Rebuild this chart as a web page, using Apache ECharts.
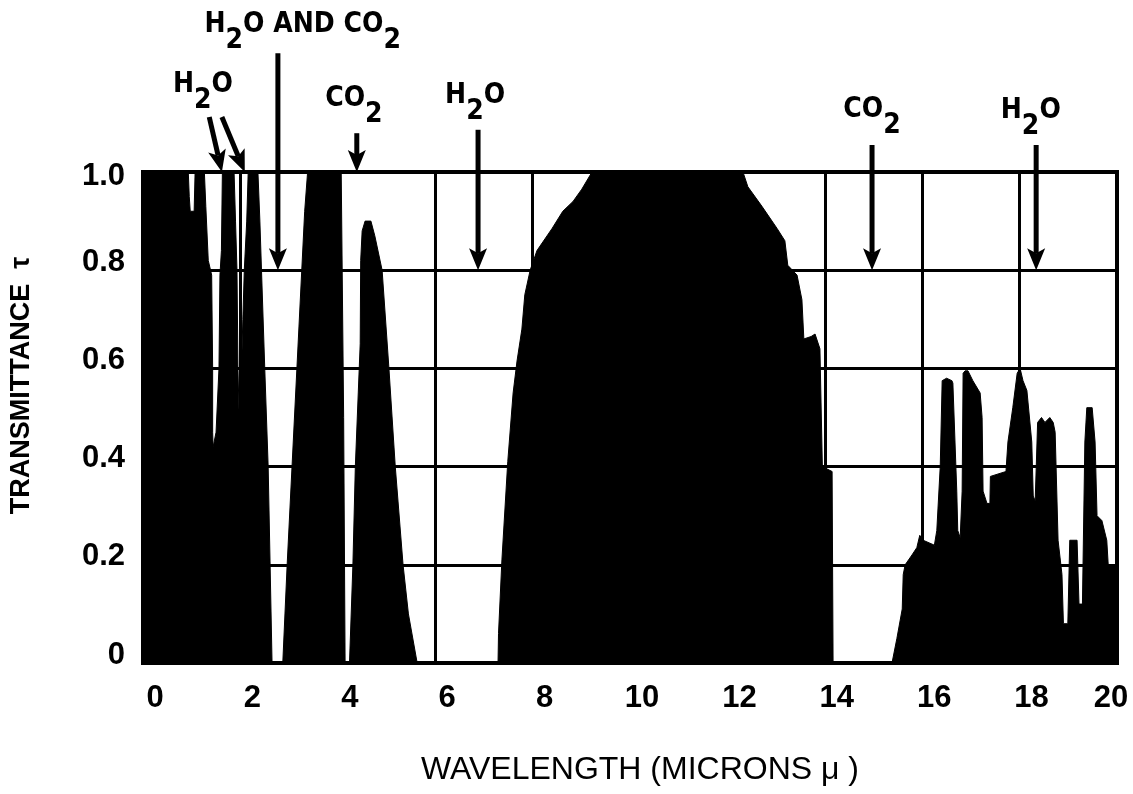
<!DOCTYPE html>
<html><head><meta charset="utf-8">
<script src="https://cdn.jsdelivr.net/npm/echarts@6/dist/echarts.min.js"></script>
<style>html,body{margin:0;padding:0;background:#fff}#c{width:1133px;height:794px}</style>
</head><body><div id="c"></div>
<script>
// wavelength (microns) and transmittance
const wavelength = [
  0.00,0.93,0.95,0.97,1.05,1.07,1.26,1.29,1.34,1.41,1.43,1.43,1.44,1.50,1.56,1.58,1.61,1.63,
  1.87,1.90,1.93,1.95,1.98,2.01,2.05,2.08,2.13,2.16,
  2.36,2.40,2.44,2.50,2.57,2.61,2.65,2.87,2.96,3.06,3.16,3.26,3.32,3.38,
  4.07,4.12,4.15,4.24,4.31,4.36,4.42,4.46,4.47,4.50,4.56,4.68,4.76,4.91,5.05,5.18,5.34,5.45,5.63,
  7.29,7.30,7.37,7.49,7.60,7.68,7.78,7.84,7.95,8.09,8.40,8.62,8.83,9.01,9.22,
  12.32,12.42,12.71,13.02,13.18,13.24,13.43,13.53,13.57,13.72,13.80,13.90,13.95,14.15,14.17,
  15.38,15.48,15.59,15.61,15.65,15.79,15.89,15.95,16.02,16.25,16.30,16.37,16.41,16.50,16.61,16.63,
  16.71,16.73,16.78,16.82,16.84,16.88,16.94,17.04,17.13,17.19,17.23,17.25,17.33,17.39,17.40,17.72,
  17.76,17.86,17.95,18.01,18.07,18.15,18.25,18.28,18.32,18.37,18.45,18.52,18.62,18.69,18.73,18.79,
  18.87,18.90,18.99,19.03,19.18,19.22,19.29,19.34,19.38,19.49,19.55,19.59,19.69,19.79,19.82,20.00
];
const transmittance = [
  1.00,1.00,0.95,0.92,0.92,1.00,1.00,0.93,0.82,0.79,0.60,0.47,0.44,0.47,0.60,0.79,0.84,1.00,
  1.00,0.90,0.80,0.60,0.48,0.55,0.70,0.80,0.90,1.00,
  1.00,0.90,0.78,0.60,0.40,0.20,0.00,0.00,0.20,0.40,0.60,0.80,0.92,1.00,
  1.00,0.50,0.00,0.00,0.20,0.40,0.55,0.65,0.82,0.88,0.90,0.90,0.87,0.80,0.60,0.40,0.20,0.10,0.00,
  0.00,0.06,0.21,0.41,0.55,0.615,0.68,0.75,0.80,0.84,0.885,0.92,0.94,0.965,1.00,
  1.00,0.97,0.93,0.885,0.86,0.81,0.79,0.74,0.66,0.665,0.67,0.64,0.40,0.39,0.00,
  0.00,0.05,0.11,0.18,0.20,0.22,0.235,0.26,0.25,0.24,0.27,0.40,0.575,0.58,0.575,0.57,
  0.35,0.27,0.255,0.35,0.59,0.595,0.595,0.575,0.56,0.55,0.50,0.35,0.325,0.325,0.38,0.39,
  0.45,0.52,0.59,0.60,0.575,0.555,0.45,0.34,0.33,0.49,0.50,0.49,0.50,0.49,0.47,0.25,
  0.18,0.08,0.08,0.25,0.25,0.12,0.12,0.45,0.52,0.52,0.45,0.30,0.29,0.25,0.20,0.20
];
const xTickLabels = ['0','2','4','6','8','10','12','14','16','18','20'];
const yTickLabels = ['0','0.2','0.4','0.6','0.8','1.0'];

// absorption band annotations
const bandNames  = ['H2O AND CO2','H2O','CO2','H2O','CO2','H2O'];
const bandLabelX = [3.28, 1.23, 4.33, 6.82, 14.97, 18.23];
const bandLabelY = [1.297, 1.175, 1.147, 1.153, 1.124, 1.122];
const arrowFromX = [2.77, 1.36, 1.62, 4.39, 6.88, 14.97, 18.34];
const arrowFromY = [1.242, 1.112, 1.112, 1.079, 1.086, 1.055, 1.055];
const arrowToX   = [2.77, 1.62, 2.09, 4.39, 6.88, 14.97, 18.34];
const arrowToY   = [0.80, 1.00, 1.00, 1.00, 0.80, 0.80, 0.80];

const TICKFAM = "'Liberation Sans Narrow','Liberation Sans',Arial,sans-serif";
const ANNFAM = "'DejaVu Sans Condensed','Liberation Sans',sans-serif";
const tickFont = {fontFamily: TICKFAM, fontWeight: 'bold', fontSize: 31, color: '#000'};

const chart = echarts.init(document.getElementById('c'), null, {renderer: 'canvas'});

function renderArrow(params, api) {
  const p1 = api.coord([api.value(0), api.value(1)]);
  const p2 = api.coord([api.value(2), api.value(3)]);
  const dx = p2[0] - p1[0], dy = p2[1] - p1[1];
  const len = Math.hypot(dx, dy);
  const ux = dx / len, uy = dy / len;
  const headLen = 22, headHalf = 9;
  const bx = p2[0] - ux * headLen, by = p2[1] - uy * headLen;
  const nx = -uy, ny = ux;
  return {type: 'group', children: [
    {type: 'line', shape: {x1: p1[0], y1: p1[1], x2: bx + ux * 5, y2: by + uy * 5},
     style: {stroke: '#000', lineWidth: 5}},
    {type: 'polygon', shape: {points: [
      [p2[0], p2[1]],
      [bx + nx * headHalf, by + ny * headHalf],
      [bx + ux * 5, by + uy * 5],
      [bx - nx * headHalf, by - ny * headHalf]]},
     style: {fill: '#000'}}
  ]};
}

function renderLabel(params, api) {
  const p = api.coord([api.value(0), api.value(1)]);
  const name = bandNames[params.dataIndex];
  const rich = name.split(/(\d)/).filter(s => s).map(s => /^\d$/.test(s) ? '{s|' + s + '}' : '{m|' + s + '}').join('');
  const base = {fontFamily: ANNFAM, fontWeight: 'bold', fontSize: 28, lineHeight: 30, fill: '#000', verticalAlign: 'top'};
  return {type: 'text', x: p[0], y: p[1] - 15, style: {
    text: rich, align: 'center', verticalAlign: 'top',
    rich: {m: Object.assign({}, base), s: Object.assign({}, base, {padding: [16, 0, 0, 0]})}
  }};
}

chart.setOption({
  animation: false,
  backgroundColor: '#fff',
  grid: {left: 143, right: 16, top: 172, bottom: 131, show: true, borderColor: '#000', borderWidth: 4, backgroundColor: '#fff'},
  xAxis: {
    type: 'value', min: 0, max: 20, interval: 2,
    axisLine: {show: false}, axisTick: {show: false},
    splitLine: {show: true, lineStyle: {color: '#000', width: 3}},
    axisLabel: {
      margin: 20,
      formatter: v => {
        const i = Math.round(v / 2);
        return i === xTickLabels.length - 1 ? '{b|' + xTickLabels[i] + '}' : '{a|' + xTickLabels[i] + '}';
      },
      rich: {
        a: Object.assign({padding: [0, 0, 0, 24]}, tickFont),
        b: Object.assign({padding: [0, 12, 0, 0]}, tickFont)
      }
    },
    name: 'WAVELENGTH (MICRONS \u03bc )', nameLocation: 'middle', nameGap: 91,
    nameTextStyle: {fontFamily: "'Liberation Sans',Arial,sans-serif", fontSize: 32, color: '#000', padding: [0, 0, 0, 20]}
  },
  yAxis: {
    type: 'value', min: 0, max: 1, interval: 0.2,
    axisLine: {show: false}, axisTick: {show: false},
    splitLine: {show: true, lineStyle: {color: '#000', width: 3}},
    axisLabel: {
      margin: 18,
      formatter: v => {
        const i = Math.round(v / 0.2);
        return i === yTickLabels.length - 1 ? '{t|' + yTickLabels[i] + '}' : '{n|' + yTickLabels[i] + '}';
      },
      rich: {
        n: Object.assign({padding: [0, 0, 16, 0]}, tickFont),
        t: Object.assign({padding: [8, 0, 0, 0]}, tickFont)
      }
    },
    name: 'TRANSMITTANCE  \u03c4', nameLocation: 'middle', nameGap: 108, nameRotate: 90,
    nameTextStyle: {fontFamily: "'Liberation Sans',Arial,sans-serif", fontWeight: 'bold', fontSize: 27, color: '#000', padding: [0, 0, 0, 64]}
  },
  series: [
    {
      type: 'line', silent: true, showSymbol: false, symbol: 'none',
      data: wavelength.map((x, i) => [x, transmittance[i]]),
      lineStyle: {color: '#000', width: 1},
      areaStyle: {color: '#000', opacity: 1, origin: 'start'},
      z: 3
    },
    {
      type: 'custom', silent: true, clip: false, z: 5,
      coordinateSystem: 'cartesian2d',
      encode: {x: [0, 2], y: [1, 3]},
      data: arrowFromX.map((x, i) => [x, arrowFromY[i], arrowToX[i], arrowToY[i]]),
      renderItem: renderArrow
    },
    {
      type: 'custom', silent: true, clip: false, z: 5,
      coordinateSystem: 'cartesian2d',
      encode: {x: 0, y: 1},
      data: bandLabelX.map((x, i) => [x, bandLabelY[i]]),
      renderItem: renderLabel
    }
  ]
});
</script>
</body></html>
